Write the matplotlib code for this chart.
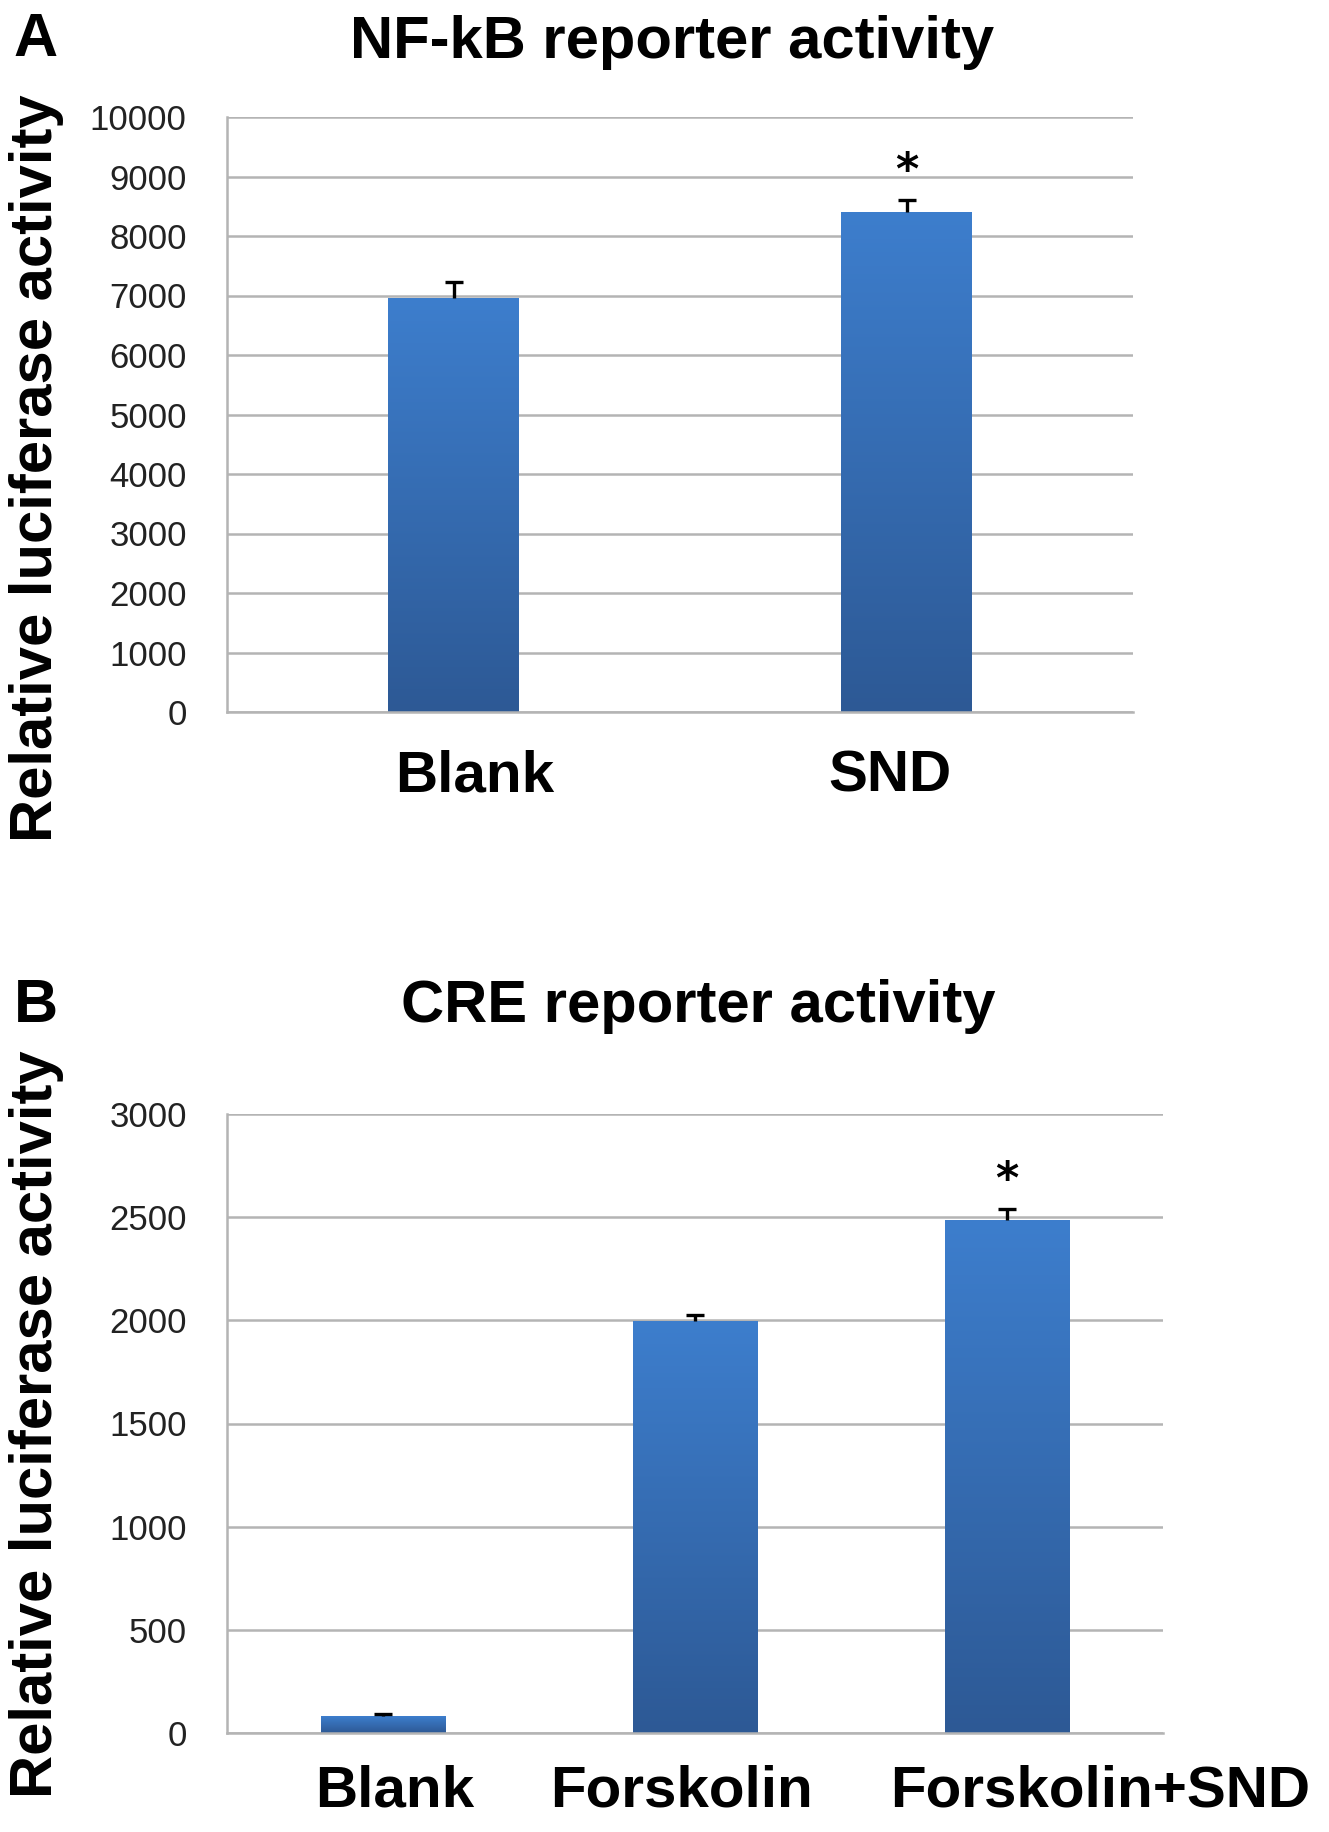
import matplotlib
matplotlib.use("Agg")
import matplotlib.pyplot as plt
import numpy as np
from matplotlib.colors import LinearSegmentedColormap
from matplotlib.transforms import ScaledTranslation

# ---- data ----
a_categories = ["Blank", "SND"]
a_values = [6950, 8410]
a_errors = [280, 190]
a_sig = [False, True]
a_yticks = [0, 1000, 2000, 3000, 4000, 5000, 6000, 7000, 8000, 9000, 10000]

b_categories = ["Blank", "Forskolin", "Forskolin+SND"]
b_values = [80, 1995, 2488]
b_errors = [10, 30, 52]
b_sig = [False, False, True]
b_yticks = [0, 500, 1000, 1500, 2000, 2500, 3000]

plt.rcParams['font.family'] = ['Liberation Sans', 'DejaVu Sans']

W, H = 1329, 1832
fig = plt.figure(figsize=(W / 100, H / 100), dpi=100)

cmap = LinearSegmentedColormap.from_list("barg", ["#2d5995", "#3d7ecd"])
grid_color = "#b4b4b4"


def panel(rect, cats, vals, errs, sig, yticks, width, title, letter, title_xy, letter_xy, ylab_y,
          xlab_pad, label_shift=None):
    ax = fig.add_axes(rect)
    x = np.arange(len(cats))
    ymax = yticks[-1]
    bars = ax.bar(x, vals, width=width, color="#3570b5", zorder=2)
    grad = np.linspace(0, 1, 256).reshape(-1, 1)
    for b in bars:
        x0 = b.get_x()
        im = ax.imshow(grad, cmap=cmap, origin="lower", aspect="auto",
                       extent=[x0, x0 + b.get_width(), 0, b.get_height()], zorder=2.5,
                       vmin=0, vmax=1)
        im.set_clip_path(b)
    eb = ax.errorbar(x, vals, yerr=[np.zeros(len(errs)), errs], fmt="none", ecolor="black",
                     elinewidth=2.4, capsize=6.5, capthick=2.4, zorder=3)
    caplines = eb[1]
    if len(caplines) >= 2:
        caplines[0].set_visible(False)
    for xi, v, e, s in zip(x, vals, errs, sig):
        if s:
            ax.annotate("*", xy=(xi, v + e), xytext=(0, 5), textcoords="offset points",
                        ha="center", va="bottom", fontsize=32, fontweight="bold",
                        family=["DejaVu Sans"])
    ax.set_xlim(-0.5, len(cats) - 0.5)
    ax.set_ylim(0, ymax)
    ax.set_yticks(yticks)
    ax.set_yticklabels([str(t) for t in yticks], fontsize=25, color="#222222")
    ax.yaxis.grid(True, color=grid_color, linewidth=1.8, zorder=0)
    ax.set_axisbelow(True)
    ax.set_xticks(x)
    ax.set_xticklabels(cats, fontsize=42, fontweight="bold")
    ax.tick_params(axis="both", length=0)
    ax.tick_params(axis="y", pad=29)
    ax.tick_params(axis="x", pad=xlab_pad)
    if label_shift:
        for lab, dx in zip(ax.get_xticklabels(), label_shift):
            lab.set_transform(lab.get_transform() + ScaledTranslation(dx / 100, 0, fig.dpi_scale_trans))
    for sp in ["top", "right"]:
        ax.spines[sp].set_visible(False)
    for sp in ["left", "bottom"]:
        ax.spines[sp].set_color(grid_color)
        ax.spines[sp].set_linewidth(1.8)
    fig.text(title_xy[0] / W, 1 - title_xy[1] / H, title, ha="center", va="center",
             fontsize=43, fontweight="bold")
    fig.text(letter_xy[0] / W, 1 - letter_xy[1] / H, letter, ha="center", va="center",
             fontsize=44, fontweight="bold")
    fig.text(37 / W, 1 - ylab_y / H, "Relative luciferase activity", ha="center", va="center",
             rotation=90, fontsize=43, fontweight="bold")
    return ax


# panel A: axes px left 227, right 1133, top 117, bottom 712
panel([227 / W, 1 - 712 / H, (1133 - 227) / W, (712 - 117) / H],
      a_categories, a_values, a_errors, a_sig, a_yticks, 0.287,
      "NF-kB reporter activity", "A", (672, 42), (36, 40), 468, 27, label_shift=[21, -17])

# panel B: axes px left 227, right 1163, top 1114, bottom 1733
panel([227 / W, 1 - 1733 / H, (1163 - 227) / W, (1733 - 1114) / H],
      b_categories, b_values, b_errors, b_sig, b_yticks, 0.40,
      "CRE reporter activity", "B", (698, 1006), (36, 1006), 1424, 23, label_shift=[12, -13, 93])

fig.savefig("out.png", dpi=100)
